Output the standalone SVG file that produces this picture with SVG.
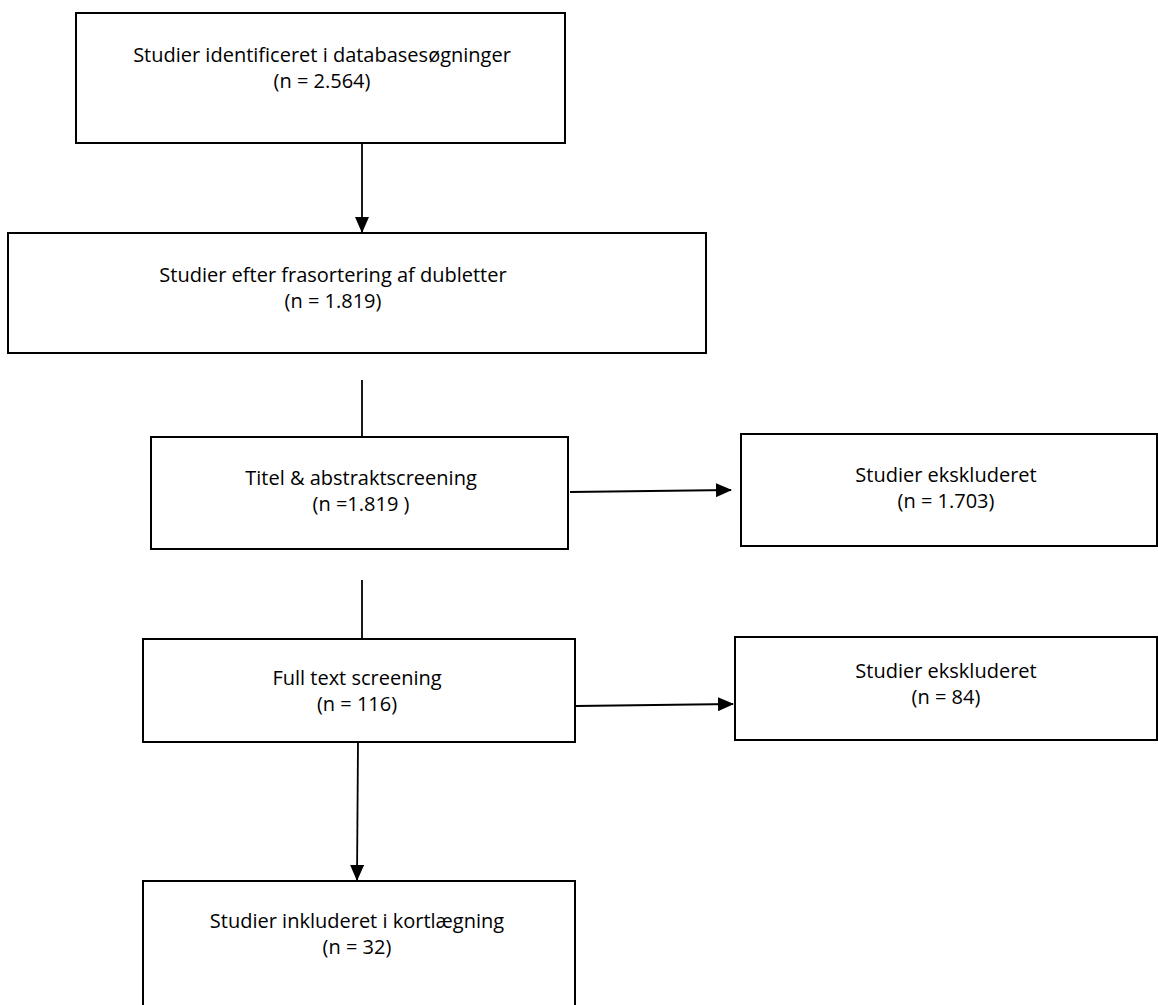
<svg xmlns="http://www.w3.org/2000/svg" width="1158" height="1005" viewBox="0 0 1158 1005">
<style>
.box{fill:#fff;stroke:#000;stroke-width:2}
.t{font-family:"Open Sans","Liberation Sans",sans-serif;font-size:20px;fill:#000;text-anchor:middle}
.c{stroke:#000;stroke-width:1.8;fill:none}
</style>
<defs>
<marker id="ah" markerWidth="16" markerHeight="14" refX="15" refY="7" orient="auto" markerUnits="userSpaceOnUse" viewBox="0 0 16 14">
<path d="M0,0 L16,7 L0,14 Z" fill="#000"/>
</marker>
</defs>
<rect width="1158" height="1005" fill="#fff"/>
<g id="connectors">
<line class="c" x1="362" y1="143" x2="362" y2="232" marker-end="url(#ah)"/>
<line class="c" x1="362" y1="380" x2="362" y2="437"/>
<line class="c" x1="570" y1="492" x2="731" y2="490" marker-end="url(#ah)"/>
<line class="c" x1="362" y1="580" x2="362" y2="639"/>
<line class="c" x1="576" y1="706" x2="733" y2="704" marker-end="url(#ah)"/>
<line class="c" x1="358" y1="742" x2="357" y2="880" marker-end="url(#ah)"/>
</g>
<g id="n1"><rect class="box" x="76" y="13" width="489" height="130"/>
<text class="t" x="322" y="62">Studier identificeret i databasesøgninger</text>
<text class="t" x="322" y="88">(n = 2.564)</text></g>
<g id="n2"><rect class="box" x="8" y="233" width="698" height="120"/>
<text class="t" x="333" y="282">Studier efter frasortering af dubletter</text>
<text class="t" x="333" y="308">(n = 1.819)</text></g>
<g id="n3"><rect class="box" x="151" y="437" width="417" height="112"/>
<text class="t" x="361" y="485">Titel &amp; abstraktscreening</text>
<text class="t" x="361" y="511">(n =1.819 )</text></g>
<g id="n4"><rect class="box" x="741" y="434" width="416" height="112"/>
<text class="t" x="946" y="482">Studier ekskluderet</text>
<text class="t" x="946" y="508">(n = 1.703)</text></g>
<g id="n5"><rect class="box" x="143" y="639" width="432" height="103"/>
<text class="t" x="357" y="685">Full text screening</text>
<text class="t" x="357" y="711">(n = 116)</text></g>
<g id="n6"><rect class="box" x="735" y="637" width="422" height="103"/>
<text class="t" x="946" y="678">Studier ekskluderet</text>
<text class="t" x="946" y="704">(n = 84)</text></g>
<g id="n7"><rect class="box" x="143" y="881" width="432" height="130"/>
<text class="t" x="357" y="928">Studier inkluderet i kortlægning</text>
<text class="t" x="357" y="954">(n = 32)</text></g>
</svg>
